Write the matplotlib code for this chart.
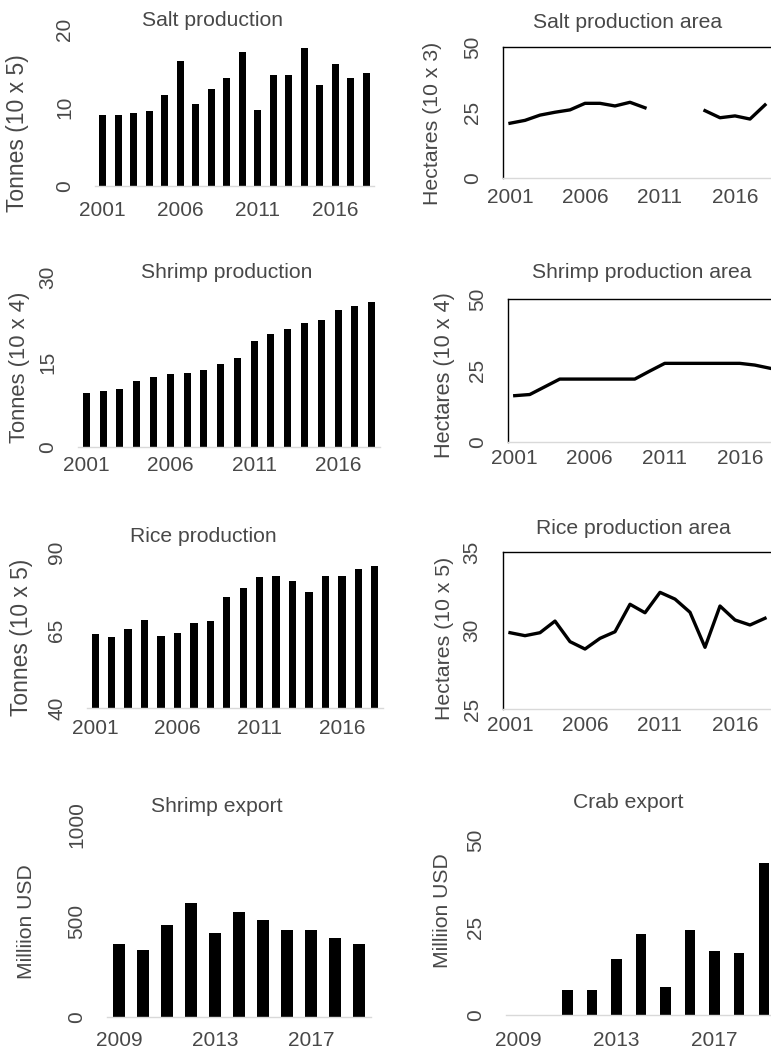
import matplotlib
matplotlib.use('Agg')
import matplotlib.pyplot as plt
import numpy as np

plt.rcParams['font.family'] = ['Liberation Sans', 'DejaVu Sans']

years_prod = list(range(2001, 2019))
years_exp = list(range(2009, 2020))

salt_production = [9.1, 9.1, 9.25, 9.55, 11.6, 15.9, 10.5, 12.3, 13.8, 17.1,
                   9.7, 14.2, 14.2, 17.6, 12.9, 15.5, 13.8, 14.4]
salt_area = [20.9, 22.0, 24.0, 25.1, 26.0, 28.5, 28.5, 27.5, 28.9, 26.8,
             np.nan, np.nan, np.nan, 25.7, 23.0, 23.7, 22.5, 27.9]
shrimp_production = [9.5, 9.9, 10.25, 11.65, 12.3, 12.8, 13.1, 13.65, 14.65, 15.65,
                     18.7, 19.9, 20.85, 21.85, 22.45, 24.1, 24.85, 25.65]
shrimp_area = [16.2, 16.6, 19.3, 22.0, 22.0, 22.0, 22.0, 22.0, 22.0, 24.8,
               27.5, 27.5, 27.5, 27.5, 27.5, 27.5, 26.9, 25.8]
rice_production = [63.7, 62.7, 65.2, 68.1, 63.0, 64.0, 67.3, 67.8, 75.7, 78.6,
                   81.9, 82.2, 80.7, 77.2, 82.2, 82.2, 84.4, 85.5]
rice_area = [29.86, 29.67, 29.86, 30.6, 29.29, 28.82, 29.5, 29.92, 31.67, 31.13,
             32.43, 32.0, 31.16, 28.93, 31.56, 30.67, 30.35, 30.78]
shrimp_export = [381, 347, 477, 593, 440, 546, 504, 452, 452, 409, 381]
crab_export = [0, 0, 7.2, 7.2, 16.0, 23.2, 7.9, 24.2, 18.3, 17.7, 43.3]

prod_xticks = [2001, 2006, 2011, 2016]
exp_xticks = [2009, 2013, 2017]

W, H = 771, 1051
fig = plt.figure(figsize=(W / 100, H / 100), dpi=100)

TXT = '#484848'
GRID = '#d9d9d9'
TICK_FS = 15
TITLE_FS = 15.2


def make_ax(x0, x1, ytop, ybot):
    return fig.add_axes([x0 / W, 1 - ybot / H, (x1 - x0) / W, (ybot - ytop) / H])


def style(ax, boxed, xticks, yticks, xlim, ylim, xpad):
    ax.set_xlim(*xlim)
    ax.set_ylim(*ylim)
    ax.set_xticks(xticks)
    ax.set_yticks(yticks)
    ax.tick_params(axis='both', length=0, labelsize=TICK_FS, labelcolor=TXT)
    ax.tick_params(axis='x', pad=xpad)
    ax.tick_params(axis='y', pad=15)
    for lab in ax.get_yticklabels():
        lab.set_rotation(90)
        lab.set_va('center')
    ax.spines['right'].set_visible(False)
    ax.spines['bottom'].set_color(GRID)
    ax.spines['bottom'].set_linewidth(1.0)
    if boxed:
        ax.spines['left'].set_color('black')
        ax.spines['top'].set_color('black')
        ax.spines['left'].set_linewidth(1.0)
        ax.spines['top'].set_linewidth(1.0)
    else:
        ax.spines['left'].set_visible(False)
        ax.spines['top'].set_visible(False)
    ax.patch.set_alpha(0)


def ptext(x, y, s, rot=0, fs=15):
    fig.text(x / W, 1 - y / H, s, rotation=rot, ha='center', va='center',
             fontsize=fs, color=TXT)


# Panel 1: Salt production
ax = make_ax(95, 374, 29, 186)
ax.bar(years_prod, salt_production, width=0.42, color='black')
style(ax, False, prod_xticks, [0, 10, 20], (2000.5, 2018.5), (0, 20), 10.5)
ptext(213, 21, 'Salt production', fs=TITLE_FS)
ptext(18, 133, 'Tonnes (10 x 5)', rot=90, fs=16.5)

# Panel 2: Salt production area
ax = make_ax(502.5, 772.5, 47, 178)
ax.plot(years_prod, salt_area, color='black', lw=2.4, solid_joinstyle='round')
style(ax, True, prod_xticks, [0, 25, 50], (2000.5, 2018.5), (0, 50), 7)
ptext(628, 23, 'Salt production area', fs=TITLE_FS)
ptext(433, 123, 'Hectares (10 x 3)', rot=90, fs=15.3)

# Panel 3: Shrimp production
ax = make_ax(78, 380, 277, 447)
ax.bar(years_prod, shrimp_production, width=0.42, color='black')
style(ax, False, prod_xticks, [0, 15, 30], (2000.5, 2018.5), (0, 30), 6.3)
ptext(227, 273, 'Shrimp production', fs=TITLE_FS)
ptext(20, 367, 'Tonnes (10 x 4)', rot=90, fs=15.8)

# Panel 4: Shrimp production area
ax = make_ax(508, 778, 299, 442)
ax.plot(years_prod, shrimp_area, color='black', lw=2.4, solid_joinstyle='round')
style(ax, True, prod_xticks, [0, 25, 50], (2000.55, 2018.55), (0, 50), 5)
ptext(642, 272, 'Shrimp production area', fs=TITLE_FS)
ptext(445, 375, 'Hectares (10 x 4)', rot=90, fs=15.6)

# Panel 5: Rice production
ax = make_ax(87, 383, 552, 708)
ax.bar(years_prod, np.array(rice_production) - 40, bottom=40, width=0.45, color='black')
style(ax, False, prod_xticks, [40, 65, 90], (2000.5, 2018.5), (40, 90), 7.7)
ptext(203, 537, 'Rice production', fs=TITLE_FS)
ptext(22, 637, 'Tonnes (10 x 5)', rot=90, fs=16.4)

# Panel 6: Rice production area
ax = make_ax(502.5, 772.5, 552, 709)
ax.plot(years_prod, rice_area, color='black', lw=2.4, solid_joinstyle='round')
style(ax, True, prod_xticks, [25, 30, 35], (2000.5, 2018.5), (25, 35), 5)
ptext(633, 528, 'Rice production area', fs=TITLE_FS)
ptext(445, 638, 'Hectares (10 x 5)', rot=90, fs=15.3)

# Panel 7: Shrimp export
ax = make_ax(107, 371, 825, 1017)
ax.bar(years_exp, shrimp_export, width=0.47, color='black')
style(ax, False, exp_xticks, [0, 500, 1000], (2008.5, 2019.5), (0, 1000), 10)
ptext(217, 807, 'Shrimp export', fs=TITLE_FS)
ptext(27, 922, 'Milliion USD', rot=90, fs=15.2)

# Panel 8: Crab export
ax = make_ax(506, 776, 840, 1015)
ax.bar(years_exp, crab_export, width=0.42, color='black')
style(ax, False, exp_xticks, [0, 25, 50], (2008.5, 2019.5), (0, 50), 11.3)
ptext(628, 803, 'Crab export', fs=TITLE_FS)
ptext(443, 911, 'Milliion USD', rot=90, fs=15.2)

fig.savefig('out.png', dpi=100, facecolor='white')
